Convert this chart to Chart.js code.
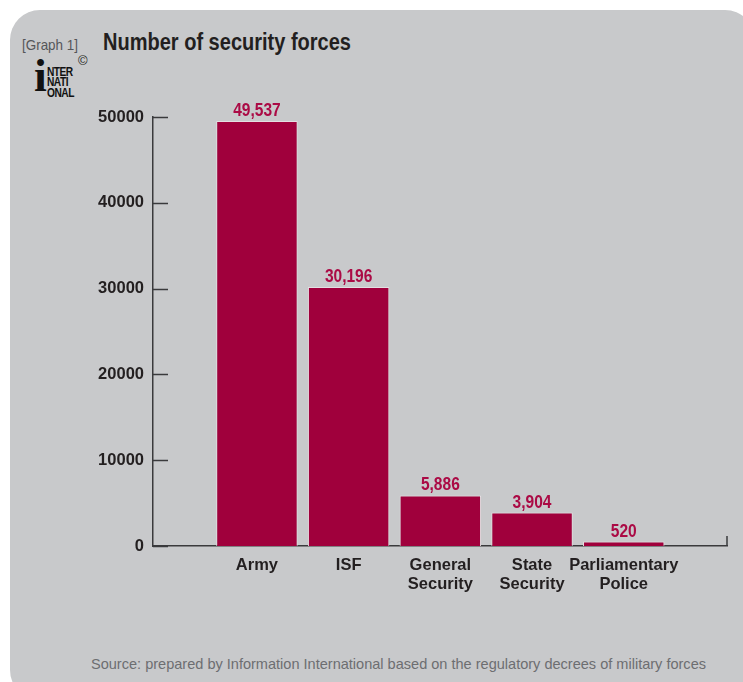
<!DOCTYPE html>
<html>
<head>
<meta charset="utf-8">
<script src="https://cdn.jsdelivr.net/npm/chart.js@4.4.1/dist/chart.umd.min.js"></script>
<style>
  html, body { margin: 0; padding: 0; background: #ffffff; }
  body { width: 743px; height: 682px; position: relative; overflow: hidden;
         font-family: 'Liberation Sans', Arial, sans-serif; }
  #panel { position: absolute; left: 10px; top: 10px; width: 745px; height: 690px;
           background: #c8c9cb; border-radius: 30px; }
  #wrap { position: absolute; left: 0; top: 0; width: 743px; height: 682px; }
  .txt { position: absolute; white-space: nowrap; transform-origin: 0 0; line-height: 1; }
  #graphno { left: 22px; top: 37px; font-size: 15px; color: #555659; }
  #title { left: 103px; top: 31px; font-size: 23px; font-weight: bold; color: #231f20; }
  #source { left: 91px; top: 656px; font-size: 15px; color: #6d6e71; }
  #logo { position: absolute; left: 33px; top: 62px; width: 48px; height: 38px; }
  #logo .bigi { position: absolute; left: 1px; top: -9px; font-family: 'Liberation Serif', serif;
                font-weight: bold; font-size: 46px; line-height: 46px; color: #111; }
  #logo .ln { position: absolute; left: 14px; font-size: 12px; font-weight: 900; line-height: 10px;
              color: #111; letter-spacing: -0.6px; transform: scaleX(0.85); transform-origin: 0 0; }
  #copy { left: 78px; top: 54px; font-size: 13px; color: #231f20; }
</style>
</head>
<body>
<div id="panel"></div>
<div class="txt" id="graphno" data-w="56">[Graph 1]</div>
<div class="txt" id="title" data-w="248">Number of security forces</div>
<div id="logo">
  <div class="bigi">i</div>
  <div class="ln" style="top:5px">NTER</div>
  <div class="ln" style="top:15px">NATI</div>
  <div class="ln" style="top:26px">ONAL</div>
</div>
<div class="txt" id="copy">©</div>
<div class="txt" id="source" data-w="615">Source: prepared by Information International based on the regulatory decrees of military forces</div>
<div id="wrap"><canvas id="c" width="743" height="682"></canvas></div>
<script>
// ---- data ----
const categories = [["Army"], ["ISF"], ["General", "Security"], ["State", "Security"], ["Parliamentary", "Police"]];
const forces = [49537, 30196, 5886, 3904, 520];
const yTicks = [0, 10000, 20000, 30000, 40000, 50000];

// fit condensed-looking HTML texts to the reference widths
document.querySelectorAll('.txt[data-w]').forEach(el => {
  const w = el.getBoundingClientRect().width;
  const target = parseFloat(el.dataset.w);
  if (w > 0) el.style.transform = 'scaleX(' + (target / w) + ')';
});

const FONT = "'Liberation Sans', Arial, sans-serif";
const BAR = '#a0003c';
const LABEL = '#ab0a45';
const AXIS = '#3a3a3c';

const points = forces.map((v, i) => ({ x: i + 1, y: v }));

const axisPlugin = {
  id: 'axisExtras',
  afterDraw(chart) {
    const { ctx, chartArea, scales } = chart;
    const ys = scales.y;
    ctx.save();
    ctx.strokeStyle = AXIS;
    ctx.lineWidth = 1.5;
    yTicks.forEach(v => {
      const py = Math.round(ys.getPixelForValue(v)) + 0.5;
      ctx.beginPath();
      ctx.moveTo(chartArea.left, py);
      ctx.lineTo(chartArea.left + 15, py);
      ctx.stroke();
    });
    const by = ys.getPixelForValue(0);
    ctx.beginPath();
    ctx.moveTo(chartArea.right, by);
    ctx.lineTo(chartArea.right, by - 10);
    ctx.stroke();
    ctx.restore();
  },
  afterDatasetsDraw(chart) {
    const { ctx } = chart;
    const meta = chart.getDatasetMeta(0);
    ctx.save();
    ctx.fillStyle = LABEL;
    ctx.font = 'bold 18.5px ' + FONT;
    ctx.textAlign = 'center';
    ctx.textBaseline = 'alphabetic';
    meta.data.forEach((bar, i) => {
      ctx.save();
      ctx.translate(bar.x, bar.y - 5);
      ctx.scale(0.84, 1);
      ctx.fillText(forces[i].toLocaleString('en-US'), 0, 0);
      ctx.restore();
    });
    ctx.restore();
  }
};

new Chart(document.getElementById('c'), {
  type: 'bar',
  data: {
    datasets: [{
      data: points,
      backgroundColor: BAR,
      borderColor: '#e4dfe2',
      borderWidth: 1,
      categoryPercentage: 1,
      barPercentage: 0.888
    }]
  },
  options: {
    responsive: false,
    animation: false,
    events: [],
    layout: { padding: { left: 0, top: 117, right: 16, bottom: 0 } },
    plugins: { legend: { display: false }, tooltip: { enabled: false } },
    scales: {
      x: {
        type: 'linear',
        offset: false,
        min: -0.1335,
        max: 6.126,
        grid: { display: false, drawTicks: false },
        border: { display: true, color: AXIS, width: 1.5 },
        afterBuildTicks: s => { s.ticks = categories.map((_, i) => ({ value: i + 1 })); },
        afterFit: s => { s.height = 682 - 546; },
        ticks: {
          autoSkip: false,
          maxRotation: 0,
          padding: 10,
          color: '#231f20',
          font: { family: FONT, size: 16.5, weight: 'bold', lineHeight: 1.15 },
          callback: v => categories[v - 1] || ''
        }
      },
      y: {
        min: 0,
        max: 50000,
        grid: { display: false, drawTicks: false },
        border: { display: true, color: AXIS, width: 1.5 },
        afterBuildTicks: s => { s.ticks = yTicks.map(v => ({ value: v })); },
        afterFit: s => { s.width = 153; },
        ticks: {
          padding: 9,
          color: '#231f20',
          font: { family: FONT, size: 16.5, weight: 'bold' },
          callback: v => String(v)
        }
      }
    }
  },
  plugins: [axisPlugin]
});
</script>
</body>
</html>
